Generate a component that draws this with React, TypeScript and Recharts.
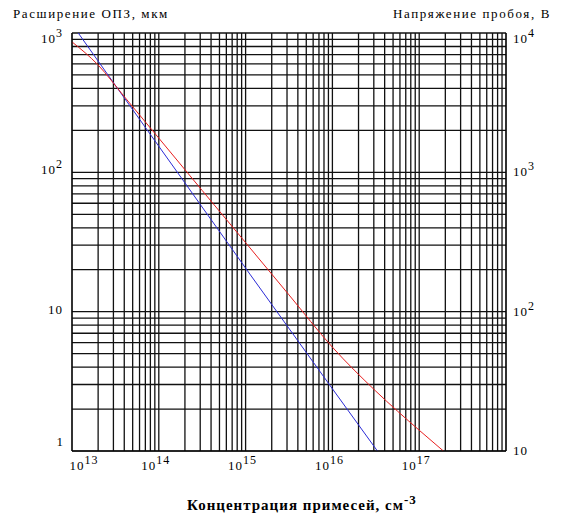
import { LineChart, Line, XAxis, YAxis, CartesianGrid } from 'recharts';

// concentration, cm^-3 (log)
const widthN = [1.18e13, 3.1e13, 2.0e14, 1.12e15, 9.4e15, 3.3e16];
// depletion width, um (left axis)
const widthUm = [1000, 428, 84, 18.6, 2.95, 1.0];

const voltN = [1.0e13, 2.0e13, 3.98e13, 1.0e14, 3.16e14, 1.0e15, 3.16e15, 1.0e16, 3.16e16, 1.0e17, 1.9e17];
// breakdown voltage, V (right axis)
const voltV = [8630, 5890, 3510, 1760, 741, 313, 132, 55.6, 26.9, 14.1, 10];

const xDecades = [13, 14, 15, 16, 17, 18];
const leftDecades = [0, 1, 2, 3];
const rightDecades = [1, 2, 3, 4];

const withMinors = (decades: number[]) => {
  const out: number[] = [];
  decades.forEach((d, i) => {
    if (i === decades.length - 1) {
      out.push(Math.pow(10, d));
      return;
    }
    for (let k = 1; k <= 9; k++) out.push(k * Math.pow(10, d));
  });
  return out;
};

const xTicks = withMinors(xDecades);
const leftTicks = withMinors(leftDecades);
const rightTicks = withMinors(rightDecades);

const widthData = widthN.map((n, i) => ({ n, w: widthUm[i] }));
const voltData = voltN.map((n, i) => ({ n, v: voltV[i] }));

const font = '"Liberation Serif", "DejaVu Serif", serif';

const expOf = (v: number) => Math.round(Math.log10(v));
const isDecade = (v: number) => Math.abs(Math.log10(v) - expOf(v)) < 1e-6;

const Pow = ({ x, y, exp, anchor }: { x: number; y: number; exp: number; anchor: 'start' | 'middle' | 'end' }) => {
  if (exp === 0) {
    return (
      <text x={x} y={y} textAnchor={anchor} fontFamily={font} fontSize={13} fill="#000">1</text>
    );
  }
  if (exp === 1) {
    return (
      <text x={x} y={y} textAnchor={anchor} fontFamily={font} fontSize={13} fill="#000" letterSpacing={1}>10</text>
    );
  }
  return (
    <text x={x} y={y} textAnchor={anchor} fontFamily={font} fontSize={13} fill="#000" letterSpacing={1}>
      10<tspan dy={-6} fontSize={12}>{exp}</tspan>
    </text>
  );
};

const XTick = (props: any) => {
  const v = props.payload.value;
  if (!isDecade(v) || expOf(v) > 17) return <g />;
  const cx = Math.max(props.x - 3, 84);
  return <Pow x={cx} y={470} exp={expOf(v)} anchor="middle" />;
};

const LeftTick = (props: any) => {
  const v = props.payload.value;
  if (!isDecade(v)) return <g />;
  const y = Math.min(Math.max(props.y + 2, 43), 446);
  return <Pow x={63} y={y} exp={expOf(v)} anchor="end" />;
};

const RightTick = (props: any) => {
  const v = props.payload.value;
  if (!isDecade(v)) return <g />;
  const y = Math.min(Math.max(props.y + 4, 43), 455);
  return <Pow x={513} y={y} exp={expOf(v)} anchor="start" />;
};

export default function App() {
  return (
    <div style={{ position: 'absolute', left: 0, top: 0, width: 562, height: 527, background: '#fff' }}>
      <LineChart width={562} height={527} margin={{ top: 33, right: 0, bottom: 0, left: 0 }}>
        <CartesianGrid xAxisId="x" yAxisId="left" stroke="#111" strokeWidth={1.3} />
        <XAxis
          xAxisId="x"
          dataKey="n"
          type="number"
          scale="log"
          domain={[1e13, 1e18]}
          ticks={xTicks}
          interval={0}
          allowDataOverflow
          height={76}
          tickLine={false}
          axisLine={{ stroke: '#000' }}
          tick={XTick}
        />
        <YAxis
          yAxisId="left"
          orientation="left"
          type="number"
          scale="log"
          domain={[1, 1000]}
          ticks={leftTicks}
          interval={0}
          allowDataOverflow
          width={72}
          tickLine={false}
          axisLine={{ stroke: '#000' }}
          tick={LeftTick}
        />
        <YAxis
          yAxisId="right"
          orientation="right"
          type="number"
          scale="log"
          domain={[10, 10000]}
          ticks={rightTicks}
          interval={0}
          allowDataOverflow
          width={56}
          tickLine={false}
          axisLine={{ stroke: '#000' }}
          tick={RightTick}
        />
        <Line
          xAxisId="x"
          yAxisId="left"
          data={widthData}
          dataKey="w"
          type="linear"
          stroke="#2b2bd6"
          strokeWidth={1}
          dot={false}
          isAnimationActive={false}
        />
        <Line
          xAxisId="x"
          yAxisId="right"
          data={voltData}
          dataKey="v"
          type="monotone"
          stroke="#e82020"
          strokeWidth={1}
          dot={false}
          isAnimationActive={false}
        />
      </LineChart>
      <div style={{ position: 'absolute', left: 13, top: 6, fontFamily: font, fontSize: 13, letterSpacing: 1.6, whiteSpace: 'nowrap' }}>
        Расширение ОПЗ, мкм
      </div>
      <div style={{ position: 'absolute', left: 393, top: 6, fontFamily: font, fontSize: 13, letterSpacing: 1.6, whiteSpace: 'nowrap' }}>
        Напряжение пробоя, В
      </div>
      <div style={{ position: 'absolute', left: 187, top: 492, fontFamily: font, fontSize: 15, fontWeight: 'bold', letterSpacing: 1, whiteSpace: 'nowrap' }}>
        Концентрация примесей, см<sup style={{ fontSize: 13, verticalAlign: 6 }}>-3</sup>
      </div>
    </div>
  );
}
